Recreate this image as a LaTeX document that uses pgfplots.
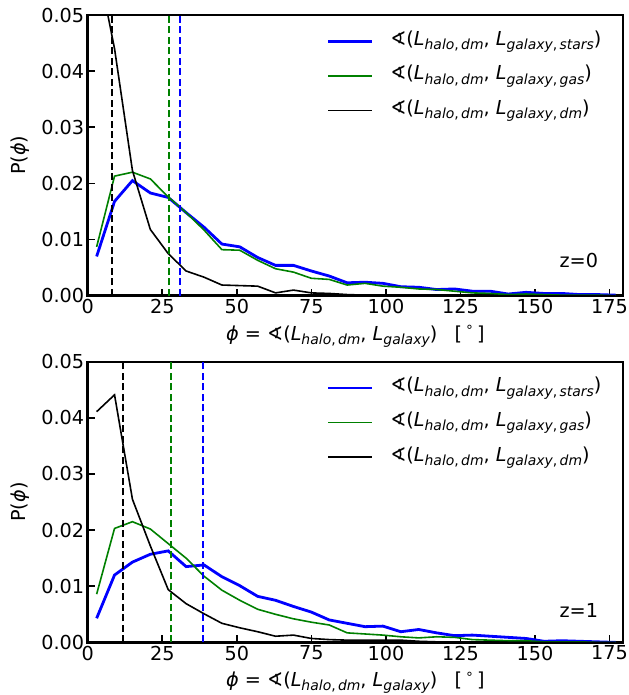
\documentclass[border=0pt]{standalone}
\usepackage{fontspec}
\setmainfont{DejaVu Sans}
\usepackage{pgfplots}
\usepackage{pgfplotstable}
\pgfplotsset{compat=1.18}

\definecolor{mplgreen}{RGB}{0,128,0}
\definecolor{mplblue}{RGB}{0,0,255}

\newcommand{\fs}{\fontsize{19.3}{23}\selectfont}
\newcommand{\sub}[1]{\raisebox{-0.22em}{\fontsize{14}{15}\selectfont #1}}
\newcommand{\lab}[1]{∢(\textit{L}\sub{\textit{halo},\,\textit{dm}}, \textit{L}\sub{\textit{galaxy},\,\textit{#1}})}

\pgfplotstableread{
x     stars   gas     dm
3     0.0070  0.0087  0.0600
9     0.0168  0.0213  0.0440
15    0.0205  0.0220  0.0223
21    0.0183  0.0208  0.0118
27    0.0175  0.0176  0.0075
33    0.0148  0.0148  0.0044
39    0.0122  0.0117  0.0033
45    0.0092  0.0082  0.0019
51    0.0087  0.0081  0.0018
57    0.0068  0.0063  0.0017
63    0.0054  0.0048  0.0005
69    0.0054  0.0042  0.0010
75    0.0044  0.0031  0.0005
81    0.0035  0.0029  0.0004
87    0.0023  0.0019  0.0002
93    0.0024  0.0022  0.0001
99    0.0022  0.0017  0.0001
105   0.0016  0.0015  0.0000
111   0.0015  0.0012  0.0000
117   0.0011  0.0011  0.0000
123   0.0012  0.0008  0.0000
129   0.0008  0.0005  0.0000
135   0.0008  0.0004  0.0000
141   0.0003  0.0002  0.0000
147   0.0006  0.0003  0.0000
153   0.0004  0.0002  0.0000
159   0.0004  0.0001  0.0000
165   0.0002  0.0001  0.0000
171   0.0002  0.0001  0.0000
177   0.0001  0.0000  0.0000
}\zzero

\pgfplotstableread{
x     stars   gas     dm
3     0.0043  0.0086  0.0411
9     0.0120  0.0203  0.0441
15    0.0143  0.0215  0.0255
21    0.0157  0.0202  0.0172
27    0.0163  0.0176  0.0094
33    0.0135  0.0150  0.0069
39    0.0138  0.0118  0.0051
45    0.0117  0.0093  0.0034
51    0.0101  0.0075  0.0026
57    0.0082  0.0059  0.0019
63    0.0075  0.0050  0.0011
69    0.0064  0.0042  0.0013
75    0.0054  0.0036  0.0007
81    0.0040  0.0031  0.0005
87    0.0034  0.0017  0.0004
93    0.0028  0.0015  0.0004
99    0.0029  0.0013  0.0004
105   0.0019  0.0010  0.0004
111   0.0023  0.0008  0.0002
117   0.0017  0.0010  0.0001
123   0.0012  0.0009  0.0001
129   0.0013  0.0005  0.0001
135   0.0011  0.0004  0.0000
141   0.0009  0.0003  0.0000
147   0.0007  0.0003  0.0000
153   0.0002  0.0001  0.0000
159   0.0003  0.0001  0.0000
165   0.0002  0.0001  0.0000
171   0.0001  0.0000  0.0000
177   0.0000  0.0000  0.0000
}\zone

\pgfplotsset{
  panel/.style={
    scale only axis,
    width=535.3bp, height=280.7bp,
    anchor=north west,
    xmin=0, xmax=179.5, ymin=0, ymax=0.05,
    xtick={0,25,...,175},
    ytick={0,0.01,...,0.05},
    scaled y ticks=false,
    yticklabel style={/pgf/number format/.cd, fixed, fixed zerofill, precision=2},
    /pgf/number format/assume math mode=true,
    tick label style={font=\fs},
    label style={font=\fs},
    xtick pos=left, ytick pos=left,
    tick align=inside,
    major tick length=7bp,
    tick style={line width=1.6bp, black},
    axis line style={line width=2.4bp},
    ylabel={P(\textit{ϕ})},
    ylabel style={at={(axis description cs:-0.1265,0.5)}, anchor=center, rotate=0},
    xlabel={\textit{ϕ} = ∢(\textit{L}\sub{\textit{halo},\,\textit{dm}}, \textit{L}\sub{\textit{galaxy}})\hspace{0.9em}[\,\raisebox{0.45em}{\fontsize{13.5}{15}\selectfont ∘}\,]},
    xlabel style={at={(axis description cs:0.5,-0.158)}, anchor=base},
    legend cell align=left,
    legend image code/.code={\draw[##1] (0bp,0bp) -- (44bp,0bp);},
    legend style={draw=none, fill=none, font=\fs,
      at={(0.4465,0.943)}, anchor=north west,
      row sep=14.6bp, column sep=16.6bp, inner sep=0pt,
      nodes={inner sep=0pt, text height=14bp, text depth=6bp}},
  },
  sblue/.style={color=mplblue, line width=2.8bp},
  sgreen/.style={color=mplgreen, line width=1.6bp},
  sblack/.style={color=black, line width=1.6bp},
  vdash/.style={line width=1.9bp, dash pattern=on 7bp off 3.5bp, forget plot},
}

\begin{document}
\begin{tikzpicture}
\begin{axis}[panel, at={(87.7bp,-15bp)}]
  \addplot[sblue] table[x=x,y=stars]{\zzero};
  \addlegendentry{\lab{stars}}
  \addplot[sgreen] table[x=x,y=gas]{\zzero};
  \addlegendentry{\lab{gas}}
  \addplot[sblack] table[x=x,y=dm]{\zzero};
  \addlegendentry{\lab{dm}}
  \addplot[vdash, black] coordinates {(8.2,0) (8.2,0.05)};
  \addplot[vdash, mplgreen] coordinates {(27.2,0) (27.2,0.05)};
  \addplot[vdash, mplblue] coordinates {(30.9,0) (30.9,0.05)};
  \node[anchor=east, font=\fs] at (rel axis cs:0.96,0.127) {z=0};
\end{axis}
\begin{axis}[panel, at={(87.7bp,-361.7bp)}]
  \addplot[sblue] table[x=x,y=stars]{\zone};
  \addlegendentry{\lab{stars}}
  \addplot[sgreen] table[x=x,y=gas]{\zone};
  \addlegendentry{\lab{gas}}
  \addplot[sblack] table[x=x,y=dm]{\zone};
  \addlegendentry{\lab{dm}}
  \addplot[vdash, black] coordinates {(11.7,0) (11.7,0.05)};
  \addplot[vdash, mplgreen] coordinates {(28.0,0) (28.0,0.05)};
  \addplot[vdash, mplblue] coordinates {(38.8,0) (38.8,0.05)};
  \node[anchor=east, font=\fs] at (rel axis cs:0.96,0.115) {z=1};
\end{axis}
\pgfresetboundingbox
\path[use as bounding box] (0bp,0bp) rectangle (629bp,-695bp);
\end{tikzpicture}
\end{document}
